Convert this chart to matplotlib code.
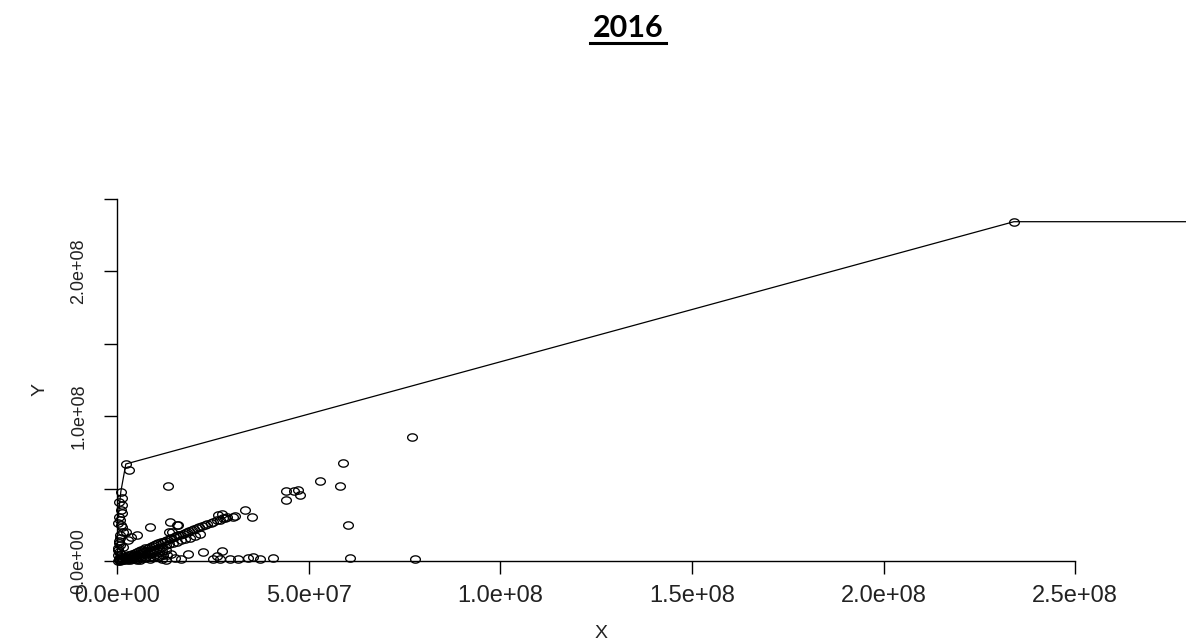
import numpy as np
import matplotlib
matplotlib.use("Agg")
import matplotlib.pyplot as plt
from matplotlib.path import Path
from matplotlib.lines import Line2D

# values in millions
# scattered points
pts_x = [234, 77.0, 59.0, 53.0, 58.2, 44.1, 44.1, 46.2, 47.2, 47.7, 60.3, 33.4, 35.2,
         30.3, 13.3, 2.3, 3.1, 30.8, 27.3, 26.4, 28.2, 16.0, 13.9, 13.6, 8.5, 5.3, 3.7,
         2.4, 2.9, 1.6, 15.7, 14.3, 1.0]
pts_y = [234, 85.5, 67.6, 55.2, 51.7, 48.3, 42.1, 48.3, 49.0, 45.5, 24.8, 35.2, 30.3,
         30.3, 51.7, 66.9, 62.8, 31.2, 32.4, 31.7, 29.4, 24.8, 27.1, 20.2, 23.2, 17.9, 16.8,
         20.2, 14.5, 9.9, 24.8, 20.2, 47.8]

# points lying near the x axis
bottom_x = [11.7, 10.7, 15.1, 18.4, 22.5, 26.0, 27.3, 25.1, 26.9, 29.5, 31.6, 34.3, 35.6,
            37.3, 40.8, 60.8, 77.7, 7.3, 8.6, 5.2, 3.4, 12.9, 16.8, 6.1]
bottom_y = [1.4, 2.8, 2.1, 4.8, 6.2, 3.7, 6.9, 1.4, 1.4, 1.4, 1.4, 2.1, 2.8,
            1.4, 2.1, 2.1, 1.4, 2.0, 1.2, 0.9, 0.6, 0.8, 1.1, 0.4]

# points close to the y axis
col_x = [1.3, 1.3, 1.0, 1.3, 0.8, 1.3, 1.0, 1.6, 0.8, 0.5, 0.3, 0.5, 0.3, 0.8, 0.4, 0.6,
         0.2, 0.7, 0.4, 0.9, 0.3, 1.1]
col_y = [43.7, 38.6, 35.2, 33.1, 28.3, 23.4, 24.8, 20.0, 15.9, 12.4, 9.0, 6.2, 4.1, 2.8,
         41.0, 30.6, 26.5, 18.1, 14.0, 10.7, 7.4, 5.0]

# dense diagonal bands near the origin
hi_x = [0.5, 1.1, 1.7, 2.3, 2.9, 3.4, 4.0, 4.6, 5.1, 5.7, 6.3, 6.8, 7.4, 8.0, 8.5, 9.1,
        9.7, 10.2, 10.8, 11.4, 11.9, 12.5, 13.1, 13.7, 14.2, 14.8, 15.4, 16.0, 16.5, 17.1,
        17.7, 18.3, 18.9, 19.6, 20.2, 20.9, 21.5, 22.2, 22.9, 23.6, 24.4, 25.1, 26.0, 26.8,
        27.7, 28.6]
hi_y = [1.2, 1.9, 2.6, 3.1, 3.9, 4.3, 5.0, 5.8, 6.1, 6.9, 7.5, 7.9, 8.7, 9.3, 9.6, 10.4,
        11.1, 11.5, 12.2, 12.9, 13.2, 13.9, 14.6, 15.3, 15.6, 16.4, 17.0, 17.8, 18.1, 18.9,
        19.6, 20.2, 20.8, 21.7, 22.1, 22.9, 23.4, 24.2, 24.8, 25.7, 26.5, 27.1, 28.0, 28.6,
        29.6, 30.4]
mid_x = [0.3, 0.9, 1.4, 2.0, 2.7, 3.3, 3.9, 4.5, 5.2, 5.8, 6.5, 7.1, 7.8, 8.6, 9.3, 10.1,
         10.9, 11.8, 12.7, 13.6, 14.6, 15.6, 16.7, 17.8, 19.0, 20.3, 21.6]
mid_y = [0.2, 0.8, 1.1, 1.8, 2.2, 2.9, 3.2, 3.9, 4.4, 4.8, 5.6, 6.0, 6.6, 7.4, 7.8, 8.6,
         9.3, 10.0, 10.9, 11.5, 12.5, 13.2, 14.3, 15.1, 16.2, 17.3, 18.4]
half_x = [0.6, 1.5, 2.4, 3.2, 4.1, 4.9, 5.8, 6.6, 7.5, 8.3, 9.2, 10.0, 10.9, 11.8, 12.7]
half_y = [0.4, 0.8, 1.5, 1.9, 2.5, 2.8, 3.5, 3.8, 4.5, 4.9, 5.4, 6.1, 6.4, 7.1, 7.5]
lo_x = [0.8, 1.6, 2.5, 3.3, 4.2, 5.0, 5.9, 6.8, 7.6, 8.5, 9.4, 10.3, 11.2, 12.1, 13.0, 14.0]
lo_y = [0.3, 0.5, 0.8, 1.1, 1.3, 1.7, 1.9, 2.2, 2.6, 2.8, 3.1, 3.5, 3.7, 4.0, 4.4, 4.7]

# upper envelope line
line_x = [0.3, 1.0, 2.3, 234, 300]
line_y = [30.0, 47.8, 66.9, 234, 234]

xticks = [0, 5e7, 1e8, 1.5e8, 2e8, 2.5e8]
xlabels = ["0.0e+00", "5.0e+07", "1.0e+08", "1.5e+08", "2.0e+08", "2.5e+08"]
yticks = [0, 5e7, 1e8, 1.5e8, 2e8, 2.5e8]
ylabels = ["0.0e+00", "", "1.0e+08", "", "2.0e+08", ""]

M = 1e6
all_x = np.array(pts_x + bottom_x + col_x + hi_x + mid_x + half_x + lo_x) * M
all_y = np.array(pts_y + bottom_y + col_y + hi_y + mid_y + half_y + lo_y) * M

# slightly wide open ellipse as point symbol
t = np.linspace(0, 2 * np.pi, 40)
ellipse = Path(np.column_stack([1.33 * np.cos(t), np.sin(t)]), closed=True)

W, H = 1186, 643
fig = plt.figure(figsize=(W / 100, H / 100), dpi=100)
ax = fig.add_axes([117 / W, 82 / H, 1 - 117 / W, (561 - 169.5) / H])
ax.set_xlim(0, 2.789e8)
ax.set_ylim(0, 2.7e8)

ax.plot(np.array(line_x) * M, np.array(line_y) * M, color="black", lw=0.9)
ax.plot(all_x, all_y, linestyle="none", marker=ellipse, markersize=7,
        mfc="none", mec="black", mew=0.95, clip_on=False)

for s in ["top", "right"]:
    ax.spines[s].set_visible(False)
ax.spines["bottom"].set_bounds(0, 2.5e8)
ax.spines["left"].set_bounds(0, 2.5e8)
for s in ["bottom", "left"]:
    ax.spines[s].set_linewidth(1.0)

ax.set_xticks(xticks)
ax.set_xticklabels(xlabels, fontsize=17, color="#222222", family="Liberation Sans")
ax.set_yticks(yticks)
ax.set_yticklabels(ylabels, fontsize=13, color="#222222", family="Liberation Sans",
                   rotation=90, va="center")
ax.tick_params(axis="both", direction="out", length=9.5, width=1.0)
ax.tick_params(axis="x", pad=8)
ax.tick_params(axis="y", pad=12)

fig.text(601 / W, 1 - 633 / H, "X", ha="center", va="center", fontsize=14,
         color="#222222", family="Liberation Sans")
fig.text(40 / W, 1 - 390 / H, "Y", ha="center", va="center", fontsize=14,
         rotation=90, color="#222222", family="Liberation Sans")

# underlined bold title
fig.text(628 / W, 1 - 37 / H, "2016", ha="center", va="baseline", fontsize=22,
         weight="bold", family="Lato")
fig.add_artist(Line2D([590 / W, 666 / W], [1 - 42.5 / H, 1 - 42.5 / H],
                      transform=fig.transFigure, color="black", lw=2.2))

fig.savefig("out.png", dpi=100)
